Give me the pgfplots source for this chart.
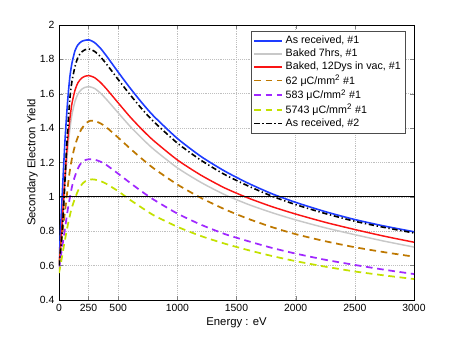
\documentclass[border=0pt]{standalone}
\usepackage{fontspec}
\setmainfont{Liberation Sans}
\usepackage{pgfplots}
\pgfplotsset{compat=1.18}

\definecolor{cBlue}{RGB}{30,60,255}
\definecolor{cGray}{RGB}{200,200,200}
\definecolor{cRed}{RGB}{250,20,20}
\definecolor{cBrown}{RGB}{190,120,0}
\definecolor{cPurple}{RGB}{160,40,255}
\definecolor{cGreen}{RGB}{195,225,0}

\begin{document}
\begin{tikzpicture}
% page size = 457x338 px at 0.75pt/px, axis box placed at origin
\useasboundingbox (-44.25pt,-28.5pt) rectangle (298.5pt,225pt);
\begin{axis}[
    at={(0,0)}, anchor=south west,
    scale only axis,
    width=266.25pt, height=206.25pt,
    xmin=0, xmax=3000, ymin=0.4, ymax=2,
    xtick={0,250,500,1000,1500,2000,2500,3000},
    ytick={0.4,0.6,...,2.01},
    /pgf/number format/assume math mode=true,
    /pgf/number format/1000 sep={},
    tick label style={font=\fontsize{7.8}{9}\selectfont},
    label style={font=\fontsize{8.5}{10}\selectfont},
    xlabel={Energy : eV},
    ylabel={Secondary Electron Yield},
    xlabel style={at={(axis description cs:0.5,-0.084)}, anchor=center},
    ylabel style={at={(axis description cs:-0.075,0.5)}, anchor=center},
    tick align=inside,
    major tick length=3pt,
    axis line style={line width=0.6pt},
    grid=major,
    major grid style={densely dotted, gray!50, line width=0.4pt},
    legend cell align=left,
    legend style={at={(0.977,0.978)}, anchor=north east,
        font=\fontsize{8}{9.5}\selectfont, draw=black!70, line width=0.6pt,
        row sep=-1.6pt, inner sep=1.5pt},
    legend image code/.code={\draw[#1] (0pt,0pt) -- (21pt,0pt);},
]
\addplot[cBlue, line width=1.2pt, smooth, tension=0.4] coordinates {
(0,0.60)(10,0.76)(20,0.91)(30,1.05)(40,1.19)(50,1.32)(60,1.43)(70,1.53)(80,1.615)
(93,1.705)(110,1.78)(135,1.85)(160,1.885)(190,1.904)(220,1.911)(256,1.913)
(300,1.898)(350,1.865)(400,1.821)(500,1.726)(600,1.634)(700,1.548)(800,1.470)
(1000,1.340)(1200,1.235)(1400,1.150)(1600,1.079)(1800,1.018)(2000,0.968)
(2250,0.914)(2500,0.868)(2750,0.830)(3000,0.797)};
\addlegendentry{As received, \#1}

\addplot[cGray, line width=1.1pt, smooth, tension=0.4] coordinates {
(0,0.59)(10,0.66)(20,0.75)(30,0.85)(45,1.01)(60,1.155)(75,1.285)(93,1.40)
(110,1.48)(135,1.555)(160,1.598)(190,1.625)(220,1.637)(256,1.641)
(300,1.631)(350,1.604)(400,1.568)(500,1.489)(600,1.411)(700,1.341)(800,1.277)
(1000,1.169)(1200,1.084)(1400,1.013)(1600,0.956)(1800,0.908)(2000,0.866)
(2250,0.820)(2500,0.780)(2750,0.742)(3000,0.708)};
\addlegendentry{Baked 7hrs, \#1}

\addplot[cRed, line width=1.1pt, smooth, tension=0.4] coordinates {
(0,0.60)(10,0.68)(20,0.78)(30,0.89)(45,1.06)(60,1.21)(75,1.34)(93,1.46)
(110,1.545)(135,1.62)(160,1.664)(190,1.69)(220,1.702)(256,1.705)
(300,1.694)(350,1.666)(400,1.629)(500,1.547)(600,1.466)(700,1.393)(800,1.327)
(1000,1.215)(1200,1.126)(1400,1.052)(1600,0.993)(1800,0.943)(2000,0.900)
(2250,0.852)(2500,0.810)(2750,0.771)(3000,0.736)};
\addlegendentry{Baked, 12Dys in vac, \#1}

\addplot[cBrown, line width=1.3pt, dash pattern=on 5pt off 3.5pt, smooth, tension=0.4] coordinates {
(0,0.60)(20,0.73)(40,0.855)(55,0.94)(65,1.0)(75,1.065)(90,1.145)(110,1.225)
(130,1.285)(150,1.33)(175,1.375)(200,1.405)(230,1.430)(265,1.443)
(300,1.442)(350,1.428)(400,1.405)(500,1.345)(600,1.282)(700,1.222)(800,1.166)
(1000,1.072)(1200,0.994)(1400,0.928)(1600,0.872)(1800,0.824)(2000,0.783)
(2250,0.742)(2500,0.707)(2750,0.678)(3000,0.652)};
\addlegendentry{62 μC/mm\textsuperscript{2} \#1}

\addplot[cPurple, line width=1.3pt, dash pattern=on 5pt off 3.5pt, smooth, tension=0.4] coordinates {
(0,0.58)(15,0.65)(30,0.72)(45,0.79)(60,0.86)(75,0.93)(93,1.0)(110,1.06)
(130,1.11)(150,1.15)(175,1.185)(200,1.205)(230,1.216)(265,1.219)
(300,1.217)(350,1.205)(400,1.186)(500,1.135)(600,1.082)(700,1.031)(800,0.984)
(1000,0.903)(1200,0.838)(1400,0.784)(1600,0.742)(1800,0.703)(2000,0.670)
(2250,0.634)(2500,0.604)(2750,0.576)(3000,0.551)};
\addlegendentry{583 μC/mm\textsuperscript{2} \#1}

\addplot[cGreen, line width=1.3pt, dash pattern=on 5pt off 3.5pt, smooth, tension=0.4] coordinates {
(0,0.557)(20,0.63)(40,0.71)(60,0.785)(80,0.855)(100,0.915)(120,0.962)(140,1.0)
(160,1.035)(180,1.06)(200,1.078)(225,1.092)(250,1.099)(280,1.102)
(300,1.101)(350,1.092)(400,1.076)(500,1.033)(600,0.983)(700,0.937)(800,0.893)
(1000,0.826)(1200,0.772)(1400,0.728)(1600,0.690)(1800,0.656)(2000,0.626)
(2250,0.594)(2500,0.566)(2750,0.543)(3000,0.522)};
\addlegendentry{5743 μC/mm\textsuperscript{2} \#1}

\addplot[black, line width=1.2pt, dash pattern=on 4pt off 2pt on 1pt off 2pt, smooth, tension=0.4] coordinates {
(0,0.60)(10,0.67)(20,0.74)(30,0.83)(40,0.95)(50,1.09)(60,1.23)(70,1.35)(80,1.46)
(93,1.58)(110,1.675)(135,1.757)(160,1.812)(190,1.842)(220,1.856)(256,1.860)
(300,1.847)(350,1.815)(400,1.774)(500,1.683)(600,1.595)(700,1.512)(800,1.438)
(1000,1.313)(1200,1.213)(1400,1.130)(1600,1.063)(1800,1.004)(2000,0.955)
(2250,0.903)(2500,0.858)(2750,0.822)(3000,0.790)};
\addlegendentry{As received, \#2}

\addplot[black, line width=0.7pt, forget plot] coordinates {(0,1)(3000,1)};
\end{axis}
\end{tikzpicture}
\end{document}
